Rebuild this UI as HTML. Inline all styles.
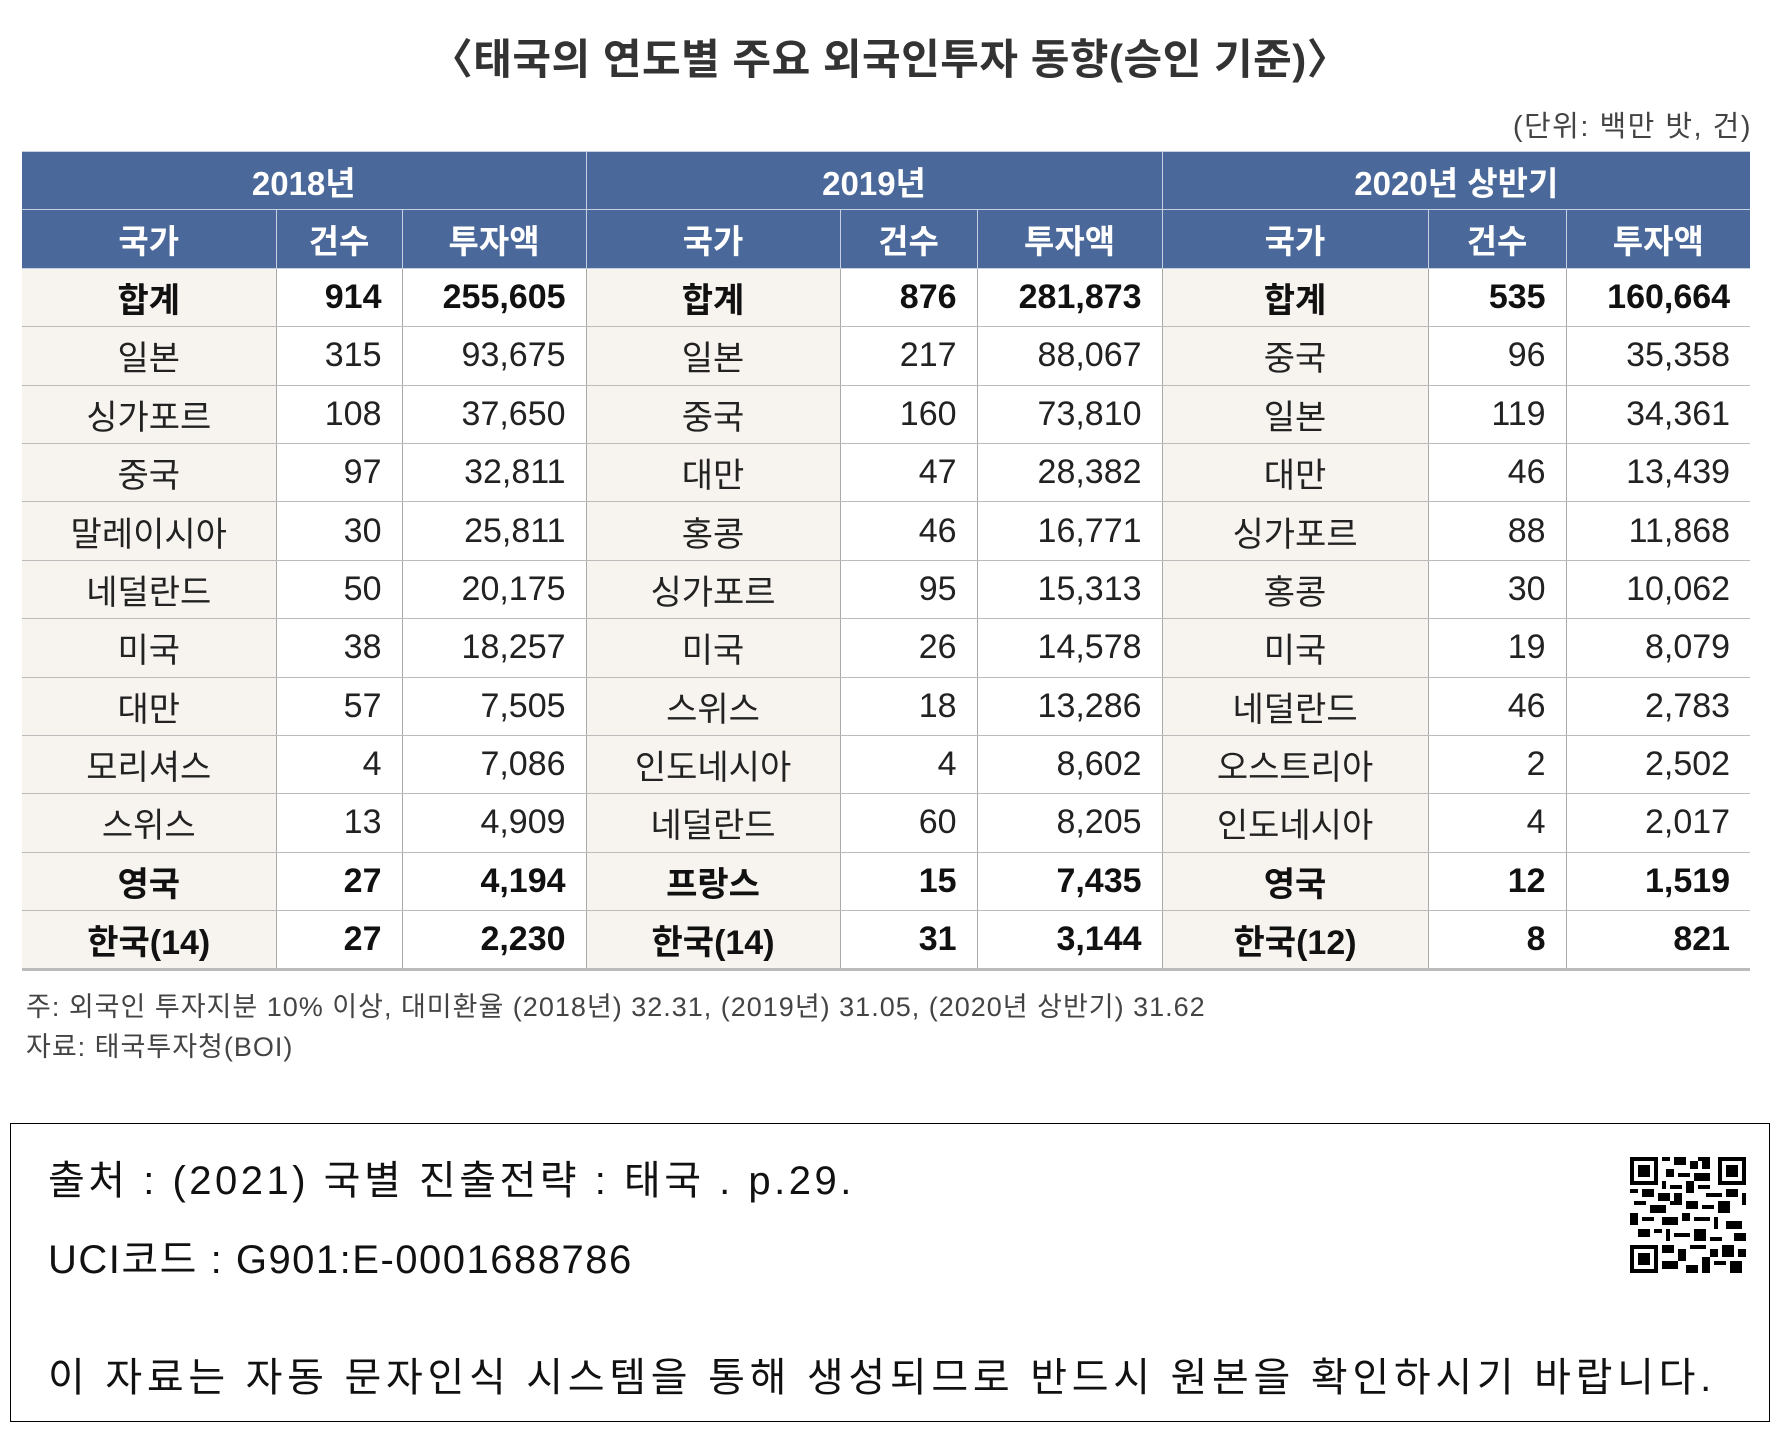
<!DOCTYPE html>
<html><head><meta charset="utf-8"><style>
body{margin:0;width:1780px;height:1433px;background:#fff;position:relative;overflow:hidden;font-family:"Liberation Sans Narrow","Liberation Sans","Noto Sans CJK KR",sans-serif;color:#222}
.t{position:absolute;left:0;width:1780px;top:26px;text-align:center;font-size:42px;font-weight:bold;color:#333;letter-spacing:0.5px;font-family:"Liberation Sans","Noto Sans CJK KR",sans-serif}
.u{position:absolute;right:28px;top:103px;font-size:29px;letter-spacing:1.5px;color:#444;font-family:"Liberation Sans","Noto Sans CJK KR",sans-serif}
table{position:absolute;left:22px;top:151px;border-collapse:collapse;table-layout:fixed;width:1728px}
td{height:57.4px;padding:0;font-size:34px;border:1px solid #bbb;border-left:1.5px solid #aaa;border-right:1.5px solid #aaa}
tr td:first-child{border-left:none}tr td:last-child{border-right:none}
.h td{background:#4a6899;color:#fff;text-align:center;border-color:#c7d0e0;font-weight:bold;font-size:33px}
.c{text-align:center;background:#f7f3ef}
.n{text-align:right;padding-right:20px}
.b td{font-weight:bold;color:#111}
tr:last-child td{border-bottom:3px solid #bbb}
.f{position:absolute;left:26px;font-size:27px;letter-spacing:1px;color:#444;font-family:"Liberation Sans","Noto Sans CJK KR",sans-serif}
.box{position:absolute;left:10px;top:1123px;width:1758px;height:297px;border:1.5px solid #000}
.bx{position:absolute;left:48px;font-size:40px;color:#111;font-family:"Liberation Sans","Noto Sans CJK KR",sans-serif;letter-spacing:2.5px}
</style></head><body>
<div class="t">〈태국의 연도별 주요 외국인투자 동향(승인 기준)〉</div>
<div class="u">(단위: 백만 밧, 건)</div>
<table>
<colgroup><col style="width:254px"><col style="width:126px"><col style="width:184px"><col style="width:254px"><col style="width:137px"><col style="width:185px"><col style="width:266px"><col style="width:138px"><col style="width:184px"></colgroup>
<tr class="h"><td colspan="3">2018년</td><td colspan="3">2019년</td><td colspan="3">2020년 상반기</td></tr>
<tr class="h"><td>국가</td><td>건수</td><td>투자액</td><td>국가</td><td>건수</td><td>투자액</td><td>국가</td><td>건수</td><td>투자액</td></tr>
<tr class="b"><td class="c">합계</td><td class="n">914</td><td class="n">255,605</td><td class="c">합계</td><td class="n">876</td><td class="n">281,873</td><td class="c">합계</td><td class="n">535</td><td class="n">160,664</td></tr>
<tr><td class="c">일본</td><td class="n">315</td><td class="n">93,675</td><td class="c">일본</td><td class="n">217</td><td class="n">88,067</td><td class="c">중국</td><td class="n">96</td><td class="n">35,358</td></tr>
<tr><td class="c">싱가포르</td><td class="n">108</td><td class="n">37,650</td><td class="c">중국</td><td class="n">160</td><td class="n">73,810</td><td class="c">일본</td><td class="n">119</td><td class="n">34,361</td></tr>
<tr><td class="c">중국</td><td class="n">97</td><td class="n">32,811</td><td class="c">대만</td><td class="n">47</td><td class="n">28,382</td><td class="c">대만</td><td class="n">46</td><td class="n">13,439</td></tr>
<tr><td class="c">말레이시아</td><td class="n">30</td><td class="n">25,811</td><td class="c">홍콩</td><td class="n">46</td><td class="n">16,771</td><td class="c">싱가포르</td><td class="n">88</td><td class="n">11,868</td></tr>
<tr><td class="c">네덜란드</td><td class="n">50</td><td class="n">20,175</td><td class="c">싱가포르</td><td class="n">95</td><td class="n">15,313</td><td class="c">홍콩</td><td class="n">30</td><td class="n">10,062</td></tr>
<tr><td class="c">미국</td><td class="n">38</td><td class="n">18,257</td><td class="c">미국</td><td class="n">26</td><td class="n">14,578</td><td class="c">미국</td><td class="n">19</td><td class="n">8,079</td></tr>
<tr><td class="c">대만</td><td class="n">57</td><td class="n">7,505</td><td class="c">스위스</td><td class="n">18</td><td class="n">13,286</td><td class="c">네덜란드</td><td class="n">46</td><td class="n">2,783</td></tr>
<tr><td class="c">모리셔스</td><td class="n">4</td><td class="n">7,086</td><td class="c">인도네시아</td><td class="n">4</td><td class="n">8,602</td><td class="c">오스트리아</td><td class="n">2</td><td class="n">2,502</td></tr>
<tr><td class="c">스위스</td><td class="n">13</td><td class="n">4,909</td><td class="c">네덜란드</td><td class="n">60</td><td class="n">8,205</td><td class="c">인도네시아</td><td class="n">4</td><td class="n">2,017</td></tr>
<tr class="b"><td class="c">영국</td><td class="n">27</td><td class="n">4,194</td><td class="c">프랑스</td><td class="n">15</td><td class="n">7,435</td><td class="c">영국</td><td class="n">12</td><td class="n">1,519</td></tr>
<tr class="b"><td class="c">한국(14)</td><td class="n">27</td><td class="n">2,230</td><td class="c">한국(14)</td><td class="n">31</td><td class="n">3,144</td><td class="c">한국(12)</td><td class="n">8</td><td class="n">821</td></tr>
</table>
<div class="f" style="top:985px">주: 외국인 투자지분 10% 이상, 대미환율 (2018년) 32.31, (2019년) 31.05, (2020년 상반기) 31.62</div>
<div class="f" style="top:1025px">자료: 태국투자청(BOI)</div>
<div class="box"></div>
<div class="bx" style="top:1148px;letter-spacing:3.5px">출처 : (2021) 국별 진출전략 : 태국 . p.29.</div>
<div class="bx" style="top:1227px;letter-spacing:1.5px">UCI코드 : G901:E-0001688786</div>
<div class="bx" style="top:1345px;letter-spacing:4.7px">이 자료는 자동 문자인식 시스템을 통해 생성되므로 반드시 원본을 확인하시기 바랍니다.</div>
<svg style="position:absolute;left:1630px;top:1157px" width="116" height="116" viewBox="0 0 29 29" shape-rendering="crispEdges">
<rect x="0" y="0" width="7" height="7" fill="#000"/><rect x="1" y="1" width="5" height="5" fill="#fff"/><rect x="2" y="2" width="3" height="3" fill="#000"/>
<rect x="22" y="0" width="7" height="7" fill="#000"/><rect x="23" y="1" width="5" height="5" fill="#fff"/><rect x="24" y="2" width="3" height="3" fill="#000"/>
<rect x="0" y="22" width="7" height="7" fill="#000"/><rect x="1" y="23" width="5" height="5" fill="#fff"/><rect x="2" y="24" width="3" height="3" fill="#000"/>
<path fill="#000" d="M8 0h2v1h-2zM11 0h3v2h-3zM15 1h2v2h-2zM18 0h2v3h-2zM9 3h2v2h-2zM12 4h3v1h-3zM16 4h4v2h-4zM8 6h1v2h-1zM10 7h3v1h-3zM14 6h2v3h-2zM17 7h3v1h-3zM0 8h2v1h-2zM3 8h3v2h-3zM7 9h3v2h-3zM11 9h2v3h-2zM19 9h4v1h-4zM24 8h3v2h-3zM28 9h1v3h-1zM1 11h3v1h-3zM5 12h4v2h-4zM14 11h3v2h-3zM18 12h3v1h-3zM22 11h3v3h-3zM0 14h2v3h-2zM3 15h3v1h-3zM8 15h4v2h-4zM13 14h2v2h-2zM16 15h4v1h-4zM21 15h1v3h-1zM24 16h4v2h-4zM2 18h3v2h-3zM6 18h2v1h-2zM9 18h1v3h-1zM11 19h4v1h-4zM16 18h3v3h-3zM20 20h3v1h-3zM26 19h3v2h-3zM8 22h3v2h-3zM12 23h2v3h-2zM15 22h4v1h-4zM20 23h2v2h-2zM23 22h3v3h-3zM27 23h2v2h-2zM8 26h4v2h-4zM14 27h3v2h-3zM18 25h2v4h-2zM21 26h3v1h-3zM25 26h3v3h-3zM10 11h1v1h-1zM17 0h1v1h-1z"/>
</svg>
</body></html>
